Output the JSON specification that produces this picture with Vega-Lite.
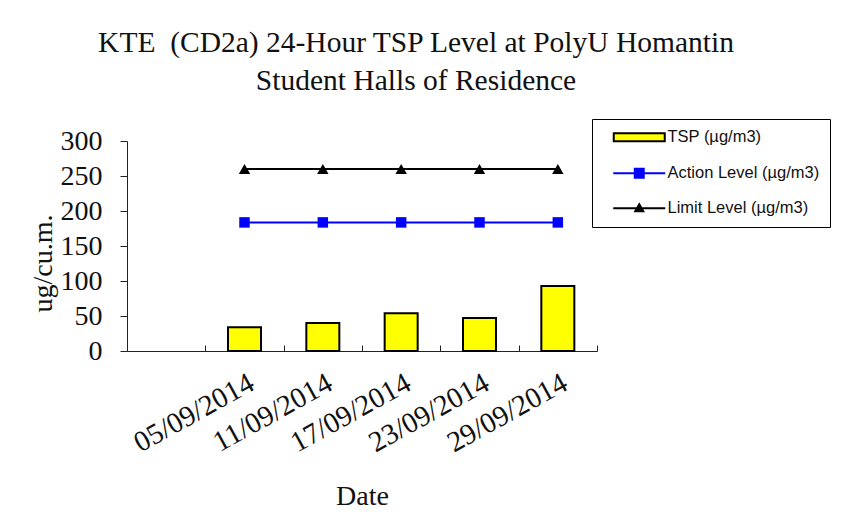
{
  "$schema": "https://vega.github.io/schema/vega-lite/v6.json",
  "width": 470,
  "height": 210,
  "autosize": {"type": "none"},
  "padding": {"left": 127, "top": 141, "right": 247, "bottom": 173},
  "background": "white",
  "config": {"view": {"stroke": null}},
  "title": {
    "text": ["KTE\u00a0 (CD2a) 24-Hour TSP Level at PolyU Homantin", "Student Halls of Residence"],
    "font": "Liberation Serif",
    "fontSize": 29.5,
    "fontWeight": "normal",
    "color": "#111",
    "anchor": "middle",
    "dx": 54,
    "offset": 22,
    "lineHeight": 38
  },
  "data": {
    "values": [
      {"date": "05/09/2014", "series": "TSP (µg/m3)", "value": 34},
      {"date": "11/09/2014", "series": "TSP (µg/m3)", "value": 40},
      {"date": "17/09/2014", "series": "TSP (µg/m3)", "value": 54},
      {"date": "23/09/2014", "series": "TSP (µg/m3)", "value": 47},
      {"date": "29/09/2014", "series": "TSP (µg/m3)", "value": 93},
      {"date": "05/09/2014", "series": "Action Level (µg/m3)", "value": 183.7},
      {"date": "11/09/2014", "series": "Action Level (µg/m3)", "value": 183.7},
      {"date": "17/09/2014", "series": "Action Level (µg/m3)", "value": 183.7},
      {"date": "23/09/2014", "series": "Action Level (µg/m3)", "value": 183.7},
      {"date": "29/09/2014", "series": "Action Level (µg/m3)", "value": 183.7},
      {"date": "05/09/2014", "series": "Limit Level (µg/m3)", "value": 260},
      {"date": "11/09/2014", "series": "Limit Level (µg/m3)", "value": 260},
      {"date": "17/09/2014", "series": "Limit Level (µg/m3)", "value": 260},
      {"date": "23/09/2014", "series": "Limit Level (µg/m3)", "value": 260},
      {"date": "29/09/2014", "series": "Limit Level (µg/m3)", "value": 260}
    ]
  },
  "encoding": {
    "x": {
      "field": "date",
      "type": "ordinal",
      "sort": null,
      "scale": {"domain": ["", "05/09/2014", "11/09/2014", "17/09/2014", "23/09/2014", "29/09/2014"], "paddingInner": 0, "paddingOuter": 0},
      "axis": {
        "title": "Date",
        "titleFont": "Liberation Serif",
        "titleFontSize": 28,
        "titleFontWeight": "normal",
        "titleColor": "#111",
        "titlePadding": 25,
        "labelFont": "Liberation Serif",
        "labelFontSize": 29,
        "labelColor": "#111",
        "labelAngle": -29,
        "labelPadding": 23,
        "tickBand": "extent",
        "tickSize": -6,
        "tickColor": "#222",
        "domainColor": "#222",
        "grid": false
      }
    },
    "y": {
      "field": "value",
      "type": "quantitative",
      "scale": {"domain": [0, 300], "nice": false},
      "axis": {
        "title": "ug/cu.m.",
        "titleFont": "Liberation Serif",
        "titleFontSize": 28,
        "titleFontWeight": "normal",
        "titleColor": "#111",
        "titlePadding": 3,
        "titleY": 122,
        "labelFont": "Liberation Serif",
        "labelFontSize": 28,
        "labelColor": "#111",
        "labelPadding": 18,
        "values": [0, 50, 100, 150, 200, 250, 300],
        "tickSize": 7,
        "tickColor": "#222",
        "domainColor": "#222",
        "grid": false
      }
    }
  },
  "layer": [
    {
      "transform": [{"filter": "datum.series === 'TSP (µg/m3)'"}],
      "mark": {"type": "bar", "size": 33, "fill": "#ffff00", "stroke": "black", "strokeWidth": 2}
    },
    {
      "transform": [{"filter": "datum.series !== 'TSP (µg/m3)'"}],
      "mark": {"type": "line", "strokeWidth": 2},
      "encoding": {
        "color": {
          "field": "series",
          "type": "nominal",
          "scale": {"domain": ["Action Level (µg/m3)", "Limit Level (µg/m3)"], "range": ["#0000ff", "black"]},
          "legend": null
        }
      }
    },
    {
      "transform": [{"filter": "datum.series === 'Action Level (µg/m3)'"}],
      "mark": {"type": "point", "filled": true, "shape": "square", "size": 110, "color": "#0000ff", "opacity": 1}
    },
    {
      "transform": [{"filter": "datum.series === 'Limit Level (µg/m3)'"}],
      "mark": {"type": "point", "filled": true, "shape": "triangle-up", "size": 130, "color": "black", "opacity": 1}
    },
    {
      "transform": [{"filter": "false"}],
      "mark": {"type": "point", "filled": true, "strokeWidth": 2, "opacity": 1},
      "encoding": {
        "fill": {
          "field": "series",
          "type": "nominal",
          "title": null,
          "scale": {"domain": ["TSP (µg/m3)", "Action Level (µg/m3)", "Limit Level (µg/m3)"], "range": ["#ffff00", "#0000ff", "black"]},
          "legend": {
            "title": null, "orient": "none", "legendX": 465, "legendY": -22,
            "strokeColor": "black", "fillColor": "white", "padding": 10, "rowPadding": 18,
            "symbolSize": 100, "symbolOffset": 29, "labelOffset": 20, "symbolStrokeWidth": 2,
            "labelFont": "Liberation Sans", "labelFontSize": 16.5, "labelColor": "#111"
          }
        },
        "stroke": {
          "field": "series",
          "type": "nominal",
          "title": null,
          "scale": {"domain": ["TSP (µg/m3)", "Action Level (µg/m3)", "Limit Level (µg/m3)"], "range": ["black", "#0000ff", "black"]},
          "legend": {
            "title": null, "orient": "none", "legendX": 465, "legendY": -22,
            "strokeColor": "black", "fillColor": "white", "padding": 10, "rowPadding": 18,
            "symbolSize": 100, "symbolOffset": 29, "labelOffset": 20, "symbolStrokeWidth": 2,
            "labelFont": "Liberation Sans", "labelFontSize": 16.5, "labelColor": "#111"
          }
        },
        "shape": {
          "field": "series",
          "type": "nominal",
          "title": null,
          "scale": {"domain": ["TSP (µg/m3)", "Action Level (µg/m3)", "Limit Level (µg/m3)"], "range": ["M-5.1,-0.8H5.1V0.8H-5.1Z", "M-5.2,0H5.2M-0.9,-0.9H0.9V0.9H-0.9Z", "M-5.2,0H5.2M0,-0.8L0.8,0.6H-0.8Z"]},
          "legend": {
            "title": null, "orient": "none", "legendX": 465, "legendY": -22,
            "strokeColor": "black", "fillColor": "white", "padding": 10, "rowPadding": 18,
            "symbolSize": 100, "symbolOffset": 29, "labelOffset": 20, "symbolStrokeWidth": 2,
            "labelFont": "Liberation Sans", "labelFontSize": 16.5, "labelColor": "#111"
          }
        }
      }
    }
  ]
}
